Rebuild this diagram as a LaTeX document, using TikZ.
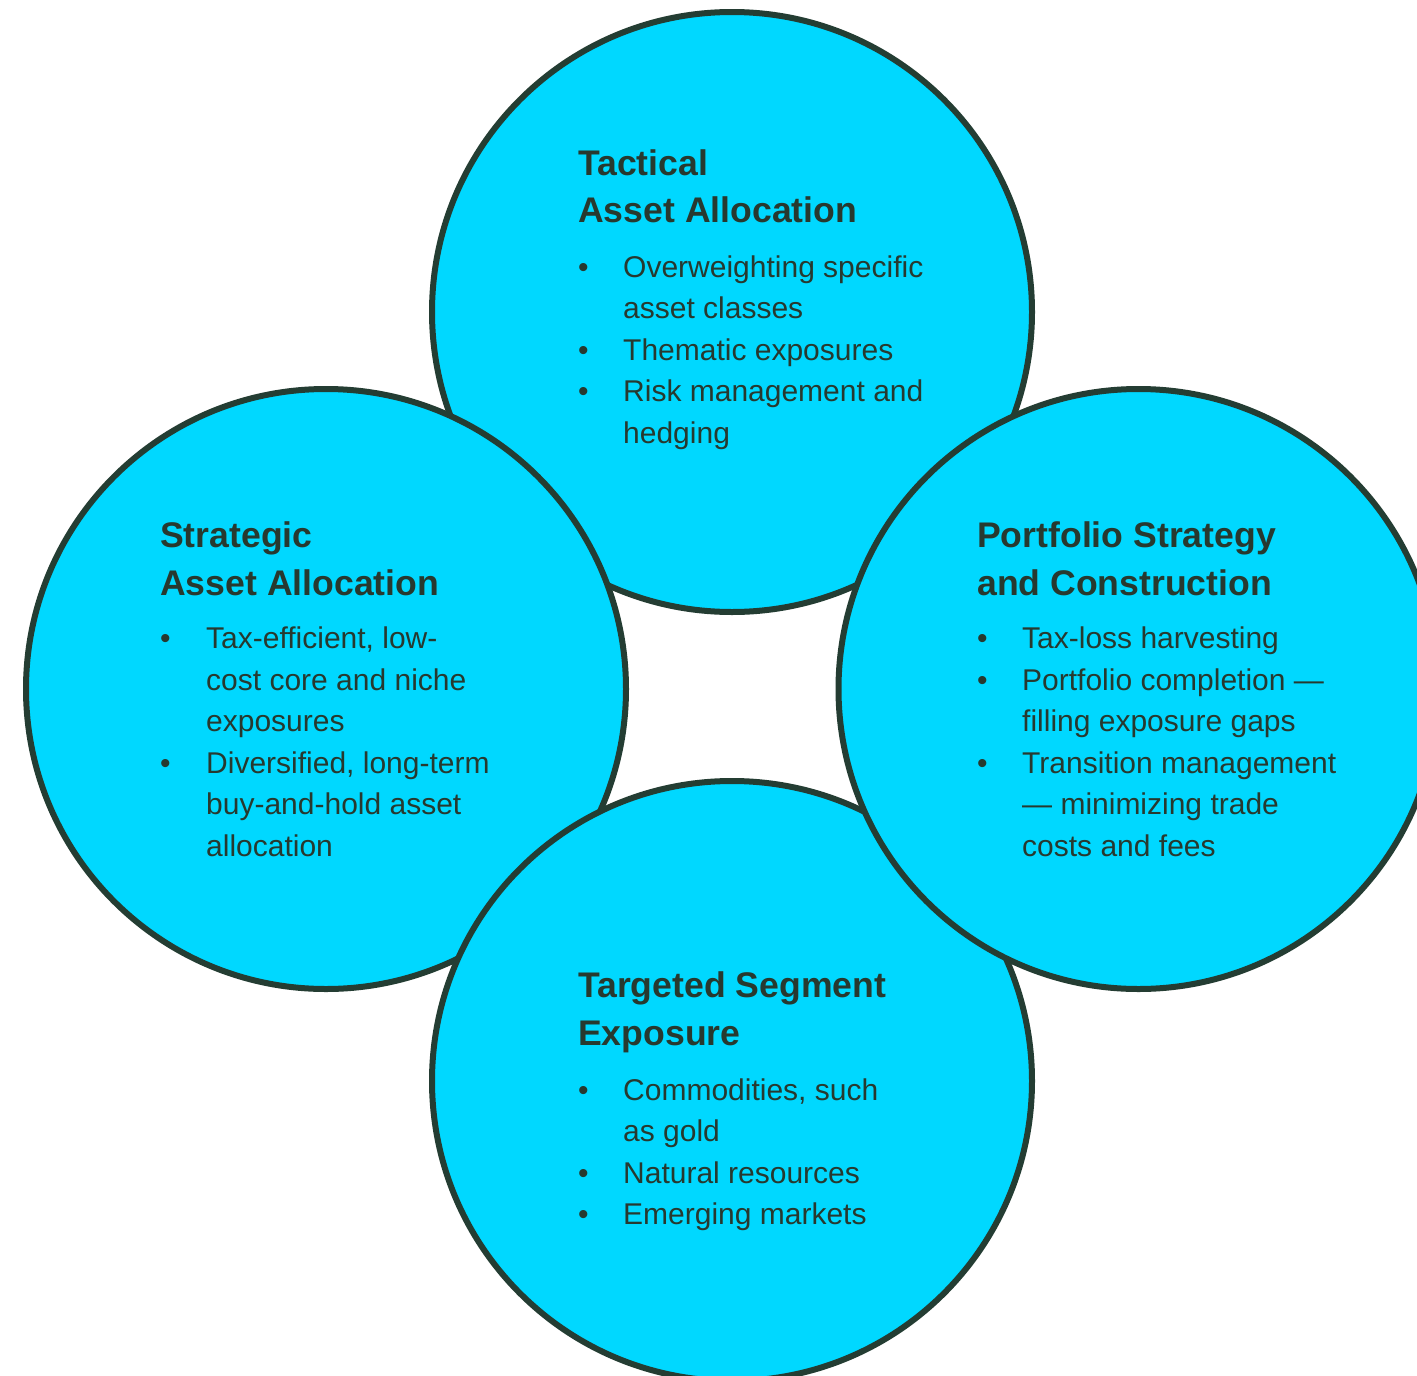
\documentclass[tikz,border=0pt]{standalone}
\usepackage{fontspec}
\setmainfont{Liberation Sans}
\definecolor{cfill}{HTML}{00D8FF}
\definecolor{cline}{HTML}{243D33}
\definecolor{ctext}{HTML}{27392F}
\newcommand\bodyln[4]{\node[bodytxt] (#1) at (#2,#3) {#4};}
\newcommand\titleln[4]{\node[titletxt] (#1) at (#2,#3) {#4};}
\newcommand\bul[3]{\node[bodytxt] (#1) at (#2,#3) {•};}
\begin{document}
\begin{tikzpicture}[x=1pt,y=-1pt,
  circ/.style={circle, draw=cline, fill=cfill, line width=6pt, minimum size=600pt, inner sep=0pt},
  bodytxt/.style={anchor=base west, inner sep=0pt, text=ctext, font=\fontsize{30}{41}\selectfont},
  titletxt/.style={anchor=base west, inner sep=0pt, text=ctext, font=\fontsize{35.6}{47}\selectfont\bfseries}]
\useasboundingbox (0,0) rectangle (1417,1376);
\clip (0,0) rectangle (1417,1376);
\fill[white] (0,0) rectangle (1417,1376);
% circles (order: top, left, bottom, right)
\node[circ] (ctop) at (732,312) {};
\node[circ] (cleft) at (326,689) {};
\node[circ] (cbot) at (732,1081) {};
\node[circ] (cright) at (1138.5,689) {};
% top
\titleln{t1}{578}{175}{Tactical}
\titleln{t2}{578}{222}{Asset Allocation}
\bul{tb1}{578}{277}
\bul{tb2}{578}{360}
\bul{tb3}{578}{401.5}
\bodyln{tl1}{623}{277}{Overweighting specific}
\bodyln{tl2}{623}{318.5}{asset classes}
\bodyln{tl3}{623}{360}{Thematic exposures}
\bodyln{tl4}{623}{401.5}{Risk management and}
\bodyln{tl5}{623}{443}{hedging}
% left
\titleln{l1}{160}{547}{Strategic}
\titleln{l2}{160}{595}{Asset Allocation}
\bul{lb1}{160}{648.5}
\bul{lb2}{160}{773}
\bodyln{ll1}{206}{648.5}{Tax-efficient, low-}
\bodyln{ll2}{206}{690}{cost core and niche}
\bodyln{ll3}{206}{731.5}{exposures}
\bodyln{ll4}{206}{773}{Diversified, long-term}
\bodyln{ll5}{206}{814.5}{buy-and-hold asset}
\bodyln{ll6}{206}{856}{allocation}
% right
\titleln{r1}{977}{547}{Portfolio Strategy}
\titleln{r2}{977}{595}{and Construction}
\bul{rb1}{977}{648.5}
\bul{rb2}{977}{690}
\bul{rb3}{977}{773}
\bodyln{rl1}{1022}{648.5}{Tax-loss harvesting}
\bodyln{rl2}{1022}{690}{Portfolio completion —}
\bodyln{rl3}{1022}{731.5}{filling exposure gaps}
\bodyln{rl4}{1022}{773}{Transition management}
\bodyln{rl5}{1022}{814.5}{— minimizing trade}
\bodyln{rl6}{1022}{856}{costs and fees}
% bottom
\titleln{b1}{578}{997}{Targeted Segment}
\titleln{b2}{578}{1045}{Exposure}
\bul{bb1}{578}{1100}
\bul{bb2}{578}{1183}
\bul{bb3}{578}{1224.5}
\bodyln{bl1}{623}{1100}{Commodities, such}
\bodyln{bl2}{623}{1141.5}{as gold}
\bodyln{bl3}{623}{1183}{Natural resources}
\bodyln{bl4}{623}{1224.5}{Emerging markets}
\end{tikzpicture}
\end{document}
